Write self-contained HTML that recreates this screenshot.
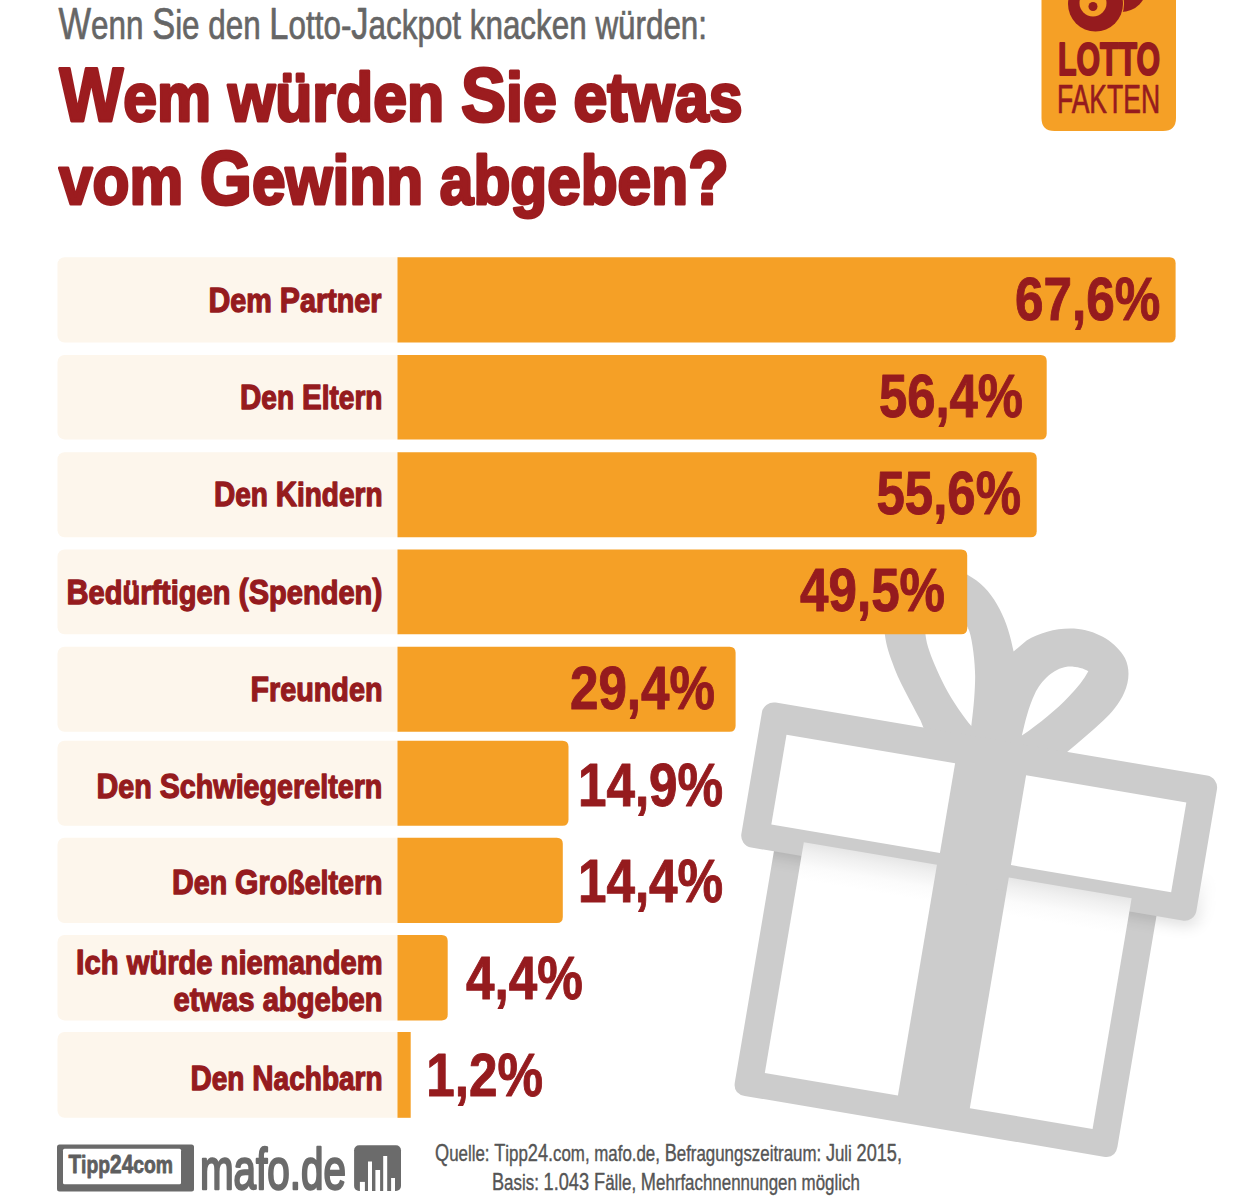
<!DOCTYPE html><html><head><meta charset="utf-8"><title>Wem würden Sie etwas vom Gewinn abgeben?</title>
<style>html,body{margin:0;padding:0;background:#fff;width:1237px;height:1201px;overflow:hidden}svg{display:block}text{font-family:"Liberation Sans",Arial,sans-serif}</style></head><body>
<svg width="1237" height="1201" viewBox="0 0 1237 1201">
<defs><filter id="blur" x="-20%" y="-50%" width="140%" height="200%"><feGaussianBlur stdDeviation="8"/></filter><linearGradient id="wg" x1="0" y1="0" x2="0" y2="1"><stop offset="0" stop-color="#e6e6e6"/><stop offset="0.04" stop-color="#f0f0f0"/><stop offset="0.1" stop-color="#fbfbfb"/><stop offset="0.16" stop-color="#fff"/></linearGradient></defs>
<g>
<g transform="translate(763.9 700.6) rotate(9.6)">
<path d="M163,2 L157.8,-6.5 C146,-22 128,-44 120.7,-58.2 C114,-70 110,-78 107,-90 C101,-112 99,-132 110,-148 C126,-166 160,-166 185,-156 C210,-146 228,-118 238,-90 L249,-103 C262,-114 280,-122 298,-123 C318,-124 338,-116 349,-102 C356,-92 357,-80 354,-68 C351,-56 345,-46 338,-37 C328,-24 318,-12 306,2 Z M208.7,-9.6 C200,-17 186,-31 175.7,-44.6 C166,-58 158,-70 153,-80 C147,-92 143,-108 150,-120 C158,-130 180,-122 191,-102.6 C196,-93 202,-72 204.3,-58.9 C206.5,-45 208,-30 208.7,-9.6 Z M260.2,-8.5 C261,-22 262,-38 266,-52 C270,-66 280,-80 293,-84 C302,-86 310,-85 315,-83 C312,-74 307,-65 300,-55 C290,-40 276,-24 260.2,-8.5 Z" fill="#CCCCCC" fill-rule="evenodd"/>
<path d="M35,140 H423 V381 Q423,393 411,393 H47 Q35,393 35,381 Z" fill="#CCCCCC"/>
<linearGradient id="shg" gradientUnits="userSpaceOnUse" x1="0" y1="95" x2="0" y2="150"><stop offset="0" stop-color="#000"/><stop offset="1" stop-color="#fff"/></linearGradient>
<mask id="shm" maskUnits="userSpaceOnUse" x="-50" y="-50" width="600" height="500"><rect x="35" y="140" width="28" height="260" fill="#fff"/><rect x="395" y="60" width="130" height="340" fill="url(#shg)"/></mask>
<g mask="url(#shm)"><rect x="8" y="10" width="457" height="141" rx="12" fill="#000" opacity="0.14" filter="url(#blur)"/></g>
<rect x="0" y="0" width="461.5" height="147" rx="12" fill="#CCCCCC"/>
<rect x="28" y="30" width="171" height="91" fill="#fff"/>
<rect x="271" y="30" width="162.5" height="91" fill="#fff"/>
<rect x="63" y="133" width="135" height="234" fill="url(#wg)"/>
<rect x="271" y="133.5" width="124.5" height="234" fill="url(#wg)"/>
</g>
<rect x="57.5" y="257.3" width="348.0" height="85.2" rx="7" fill="#FDF6EC"/>
<path d="M397.5,257.3 H1169.6 Q1175.6,257.3 1175.6,263.3 V336.5 Q1175.6,342.5 1169.6,342.5 H397.5 Z" fill="#F5A026"/>
<rect x="57.5" y="354.9" width="348.0" height="84.5" rx="7" fill="#FDF6EC"/>
<path d="M397.5,354.9 H1040.7 Q1046.7,354.9 1046.7,360.9 V433.4 Q1046.7,439.4 1040.7,439.4 H397.5 Z" fill="#F5A026"/>
<rect x="57.5" y="452.3" width="348.0" height="84.9" rx="7" fill="#FDF6EC"/>
<path d="M397.5,452.3 H1030.7 Q1036.7,452.3 1036.7,458.3 V531.2 Q1036.7,537.2 1030.7,537.2 H397.5 Z" fill="#F5A026"/>
<rect x="57.5" y="549.4" width="348.0" height="84.9" rx="7" fill="#FDF6EC"/>
<path d="M397.5,549.4 H961.2 Q967.2,549.4 967.2,555.4 V628.3 Q967.2,634.3 961.2,634.3 H397.5 Z" fill="#F5A026"/>
<rect x="57.5" y="646.8" width="348.0" height="84.9" rx="7" fill="#FDF6EC"/>
<path d="M397.5,646.8 H729.6 Q735.6,646.8 735.6,652.8 V725.7 Q735.6,731.7 729.6,731.7 H397.5 Z" fill="#F5A026"/>
<rect x="57.5" y="740.8" width="348.0" height="84.9" rx="7" fill="#FDF6EC"/>
<path d="M397.5,740.8 H562.5 Q568.5,740.8 568.5,746.8 V819.7 Q568.5,825.7 562.5,825.7 H397.5 Z" fill="#F5A026"/>
<rect x="57.5" y="837.8" width="348.0" height="85.2" rx="7" fill="#FDF6EC"/>
<path d="M397.5,837.8 H556.8 Q562.8,837.8 562.8,843.8 V917 Q562.8,923 556.8,923 H397.5 Z" fill="#F5A026"/>
<rect x="57.5" y="935" width="348.0" height="85.4" rx="7" fill="#FDF6EC"/>
<path d="M397.5,935 H441.7 Q447.7,935 447.7,941 V1014.4 Q447.7,1020.4 441.7,1020.4 H397.5 Z" fill="#F5A026"/>
<rect x="57.5" y="1032" width="348.0" height="85.8" rx="7" fill="#FDF6EC"/>
<rect x="397.5" y="1032" width="13.2" height="85.8" fill="#F5A026"/>
<path d="M1041.5,0 H1176 V118 Q1176,131 1163,131 H1054.5 Q1041.5,131 1041.5,118 Z" fill="#F5A026"/>
<circle cx="1121" cy="-14" r="26" fill="#951B1E"/>
<circle cx="1095.5" cy="4" r="28.5" fill="#F5A026"/>
<circle cx="1095.5" cy="4" r="27.5" fill="#951B1E"/>
<circle cx="1093" cy="3" r="13.5" fill="#F5A026"/>
<circle cx="1093" cy="6.5" r="4.5" fill="#951B1E"/>
<rect x="57" y="1144.6" width="137" height="46.8" rx="2.5" fill="#6A6A6A"/>
<rect x="63" y="1148.8" width="118" height="35.5" rx="1.5" fill="#fff"/>
<rect x="354.1" y="1145.2" width="46.9" height="45.8" rx="5" fill="#6B6B6B"/>
<rect x="359.9" y="1181.9" width="5.0" height="9.1" fill="#fff"/>
<rect x="368" y="1161.5" width="4.0" height="29.5" fill="#fff"/>
<rect x="375.4" y="1170" width="4.7" height="21.0" fill="#fff"/>
<rect x="383.2" y="1156" width="4.0" height="35.0" fill="#fff"/>
<rect x="391.1" y="1178" width="3.9" height="13.0" fill="#fff"/>
</g>
<text x="58.50" y="39.25" font-size="44.30" font-weight="400" fill="#666666" stroke="#666666" stroke-width="0.7" stroke-linejoin="round" textLength="648.52" lengthAdjust="spacingAndGlyphs">W<tspan font-size="40.31">enn </tspan>S<tspan font-size="40.31">ie den </tspan>L<tspan font-size="40.31">otto-</tspan>J<tspan font-size="40.31">ackpot knacken würden:</tspan></text>
<text x="59.50" y="120.70" font-size="76.00" font-weight="700" fill="#9C1C1F" stroke="#9C1C1F" stroke-width="3.0" stroke-linejoin="round" textLength="683.00" lengthAdjust="spacingAndGlyphs">W<tspan font-size="68.40">em würden </tspan>S<tspan font-size="68.40">ie etwas</tspan></text>
<text x="59.00" y="204.20" font-size="76.00" font-weight="700" fill="#9C1C1F" stroke="#9C1C1F" stroke-width="3.0" stroke-linejoin="round" textLength="670.00" lengthAdjust="spacingAndGlyphs"><tspan font-size="68.40">vom </tspan>G<tspan font-size="68.40">ewinn abgeben</tspan>?</text>
<text x="208.49" y="311.75" font-size="34.60" font-weight="700" fill="#951B1E" stroke="#951B1E" stroke-width="1.3" stroke-linejoin="round" textLength="173.01" lengthAdjust="spacingAndGlyphs">D<tspan font-size="32.87">em </tspan>P<tspan font-size="32.87">artner</tspan></text>
<text x="239.98" y="408.95" font-size="34.60" font-weight="700" fill="#951B1E" stroke="#951B1E" stroke-width="1.3" stroke-linejoin="round" textLength="142.54" lengthAdjust="spacingAndGlyphs">D<tspan font-size="32.87">en </tspan>E<tspan font-size="32.87">ltern</tspan></text>
<text x="213.99" y="506.05" font-size="34.60" font-weight="700" fill="#951B1E" stroke="#951B1E" stroke-width="1.3" stroke-linejoin="round" textLength="168.54" lengthAdjust="spacingAndGlyphs">D<tspan font-size="32.87">en </tspan>K<tspan font-size="32.87">indern</tspan></text>
<text x="66.49" y="604.25" font-size="34.60" font-weight="700" fill="#951B1E" stroke="#951B1E" stroke-width="1.3" stroke-linejoin="round" textLength="316.01" lengthAdjust="spacingAndGlyphs">B<tspan font-size="32.87">edürftigen </tspan>(S<tspan font-size="32.87">penden</tspan>)</text>
<text x="250.47" y="701.15" font-size="34.60" font-weight="700" fill="#951B1E" stroke="#951B1E" stroke-width="1.3" stroke-linejoin="round" textLength="132.05" lengthAdjust="spacingAndGlyphs">F<tspan font-size="32.87">reunden</tspan></text>
<text x="96.39" y="797.95" font-size="34.60" font-weight="700" fill="#951B1E" stroke="#951B1E" stroke-width="1.3" stroke-linejoin="round" textLength="286.01" lengthAdjust="spacingAndGlyphs">D<tspan font-size="32.87">en </tspan>S<tspan font-size="32.87">chwiegereltern</tspan></text>
<text x="171.99" y="894.35" font-size="34.60" font-weight="700" fill="#951B1E" stroke="#951B1E" stroke-width="1.3" stroke-linejoin="round" textLength="210.62" lengthAdjust="spacingAndGlyphs">D<tspan font-size="32.87">en </tspan>G<tspan font-size="32.87">roßeltern</tspan></text>
<text x="76.09" y="973.65" font-size="34.60" font-weight="700" fill="#951B1E" stroke="#951B1E" stroke-width="1.3" stroke-linejoin="round" textLength="306.47" lengthAdjust="spacingAndGlyphs">I<tspan font-size="32.87">ch würde niemandem</tspan></text>
<text x="173.50" y="1011.35" font-size="34.60" font-weight="700" fill="#951B1E" stroke="#951B1E" stroke-width="1.3" stroke-linejoin="round" textLength="209.03" lengthAdjust="spacingAndGlyphs"><tspan font-size="32.87">etwas abgeben</tspan></text>
<text x="190.49" y="1089.65" font-size="34.60" font-weight="700" fill="#951B1E" stroke="#951B1E" stroke-width="1.3" stroke-linejoin="round" textLength="192.12" lengthAdjust="spacingAndGlyphs">D<tspan font-size="32.87">en </tspan>N<tspan font-size="32.87">achbarn</tspan></text>
<text x="1014.99" y="319.80" font-size="60.60" font-weight="700" fill="#951B1E" stroke="#951B1E" stroke-width="1.0" stroke-linejoin="round" textLength="145.24" lengthAdjust="spacingAndGlyphs">67,6%</text>
<text x="879.07" y="416.50" font-size="60.60" font-weight="700" fill="#951B1E" stroke="#951B1E" stroke-width="1.0" stroke-linejoin="round" textLength="143.92" lengthAdjust="spacingAndGlyphs">56,4%</text>
<text x="876.44" y="513.70" font-size="60.60" font-weight="700" fill="#951B1E" stroke="#951B1E" stroke-width="1.0" stroke-linejoin="round" textLength="144.52" lengthAdjust="spacingAndGlyphs">55,6%</text>
<text x="800.09" y="610.50" font-size="60.60" font-weight="700" fill="#951B1E" stroke="#951B1E" stroke-width="1.0" stroke-linejoin="round" textLength="144.92" lengthAdjust="spacingAndGlyphs">49,5%</text>
<text x="569.98" y="708.70" font-size="60.60" font-weight="700" fill="#951B1E" stroke="#951B1E" stroke-width="1.0" stroke-linejoin="round" textLength="145.02" lengthAdjust="spacingAndGlyphs">29,4%</text>
<text x="577.90" y="805.50" font-size="60.60" font-weight="700" fill="#951B1E" stroke="#951B1E" stroke-width="1.0" stroke-linejoin="round" textLength="145.28" lengthAdjust="spacingAndGlyphs">14,9%</text>
<text x="577.90" y="902.30" font-size="60.60" font-weight="700" fill="#951B1E" stroke="#951B1E" stroke-width="1.0" stroke-linejoin="round" textLength="145.28" lengthAdjust="spacingAndGlyphs">14,4%</text>
<text x="466.00" y="999.20" font-size="60.60" font-weight="700" fill="#951B1E" stroke="#951B1E" stroke-width="1.0" stroke-linejoin="round" textLength="116.85" lengthAdjust="spacingAndGlyphs">4,4%</text>
<text x="426.33" y="1096.30" font-size="60.60" font-weight="700" fill="#951B1E" stroke="#951B1E" stroke-width="1.0" stroke-linejoin="round" textLength="116.70" lengthAdjust="spacingAndGlyphs">1,2%</text>
<text x="1057.96" y="75.00" font-size="45.80" font-weight="700" fill="#951B1E" stroke="#951B1E" stroke-width="2.0" stroke-linejoin="round" textLength="102.06" lengthAdjust="spacingAndGlyphs">LOTTO</text>
<text x="1056.92" y="112.65" font-size="40.30" font-weight="400" fill="#951B1E" stroke="#951B1E" stroke-width="0.7" stroke-linejoin="round" textLength="103.17" lengthAdjust="spacingAndGlyphs">FAKTEN</text>
<text x="68.40" y="1173.30" font-size="26.00" font-weight="700" fill="#5E5E5E" stroke="#5E5E5E" stroke-width="0.8" stroke-linejoin="round" textLength="104.61" lengthAdjust="spacingAndGlyphs">T<tspan font-size="24.18">ipp</tspan>24<tspan font-size="24.18">com</tspan></text>
<text x="199.92" y="1188.80" font-size="57.50" font-weight="400" fill="#6B6B6B" stroke="#6B6B6B" stroke-width="2.4" stroke-linejoin="round" textLength="146.14" lengthAdjust="spacingAndGlyphs">mafo.de</text>
<text x="435.00" y="1160.70" font-size="23.10" font-weight="400" fill="#555555" stroke="#555555" stroke-width="0.4" stroke-linejoin="round" textLength="467.01" lengthAdjust="spacingAndGlyphs">Q<tspan font-size="21.48">uelle: </tspan>T<tspan font-size="21.48">ipp</tspan>24.<tspan font-size="21.48">com, mafo.de, </tspan>B<tspan font-size="21.48">efragungszeitraum: </tspan>J<tspan font-size="21.48">uli </tspan>2015,</text>
<text x="491.99" y="1190.30" font-size="23.10" font-weight="400" fill="#555555" stroke="#555555" stroke-width="0.4" stroke-linejoin="round" textLength="367.82" lengthAdjust="spacingAndGlyphs">B<tspan font-size="21.48">asis: </tspan>1.043 F<tspan font-size="21.48">älle, </tspan>M<tspan font-size="21.48">ehrfachnennungen möglich</tspan></text>
</svg></body></html>
